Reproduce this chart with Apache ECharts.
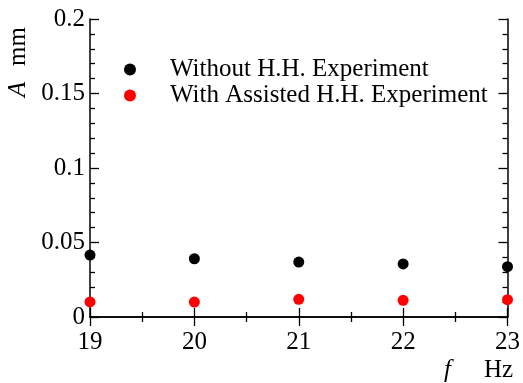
<!DOCTYPE html>
<html><head><meta charset="utf-8">
<script src="https://cdn.jsdelivr.net/npm/echarts@6/dist/echarts.min.js"></script>
<style>html,body{margin:0;padding:0;background:#fff}#c{width:523px;height:383px}</style>
</head><body><div id="c"></div>
<script>
var freqs = [19, 20, 21, 22, 23];
var withoutHH = [0.0416, 0.0391, 0.0369, 0.0356, 0.0338];
var withHH = [0.0101, 0.0100, 0.0119, 0.0112, 0.0116];
var seriesNames = ['Without H.H. Experiment', 'With Assisted H.H. Experiment'];
var xTicks = [19, 20, 21, 22, 23];
var yTicks = [0, 0.05, 0.1, 0.15, 0.2];

function pairs(xs, ys){ return xs.map(function(x,i){ return [x, ys[i]]; }); }
var F = '"Liberation Serif", "Times New Roman", serif';
var FS = 25;
function ax(o, split){
  return Object.assign({
    axisLine:{show:true, lineStyle:{color:'#000', width:1.5}},
    axisTick:{show:true, inside:true, length:9, lineStyle:{color:'#000', width:1.3}},
    minorTick:{show:true, splitNumber:split, length:5, lineStyle:{color:'#000', width:1.3}},
    splitLine:{show:false}
  }, o);
}
var chart = echarts.init(document.getElementById('c'), null, {renderer:'canvas'});
chart.setOption({
  animation:false,
  backgroundColor:'#fff',
  grid:{left:90, right:13, top:19, bottom:66},
  legend:{
    orient:'vertical', left:124, top:57, itemGap:1, padding:0,
    itemWidth:12, itemHeight:12, icon:'circle',
    textStyle:{fontFamily:F, fontSize:FS, color:'#000', padding:[0,0,0,29]},
    data:seriesNames
  },
  xAxis:[
    ax({type:'value', min:19, max:23, interval:1, position:'bottom',
      axisLabel:{show:true, margin:13, fontFamily:F, fontSize:FS, color:'#000',
        formatter:function(v){ return xTicks.indexOf(v)>=0 ? String(v) : ''; }}}, 2),
    ax({type:'value', min:19, max:23, interval:1, position:'top', axisLabel:{show:false}}, 2)
  ],
  yAxis:[
    ax({type:'value', min:0, max:0.2, interval:0.05, position:'left',
      axisLabel:{show:true, margin:5, fontFamily:F, fontSize:FS, color:'#000',
        formatter:function(v){ var r=Math.round(v*100)/100; return yTicks.indexOf(r)>=0 ? String(r) : ''; }}}, 5),
    ax({type:'value', min:0, max:0.2, interval:0.05, position:'right', axisLabel:{show:false}}, 5)
  ],
  graphic:[
    {type:'text', left:444, top:358, style:{text:'f', font:'italic 25px '+F, fill:'#000'}},
    {type:'text', left:484, top:358, style:{text:'Hz', font:'25px '+F, fill:'#000'}},
    {type:'text', x:6, y:97, rotation:Math.PI/2, style:{text:'A', font:'italic 25px '+F, fill:'#000'}},
    {type:'text', x:6, y:66, rotation:Math.PI/2, style:{text:'mm', font:'25px '+F, fill:'#000'}}
  ],
  series:[
    {name:seriesNames[0], type:'scatter', symbol:'circle', symbolSize:11,
      itemStyle:{color:'#000', opacity:1}, data:pairs(freqs, withoutHH), clip:false},
    {name:seriesNames[1], type:'scatter', symbol:'circle', symbolSize:11,
      itemStyle:{color:'#ff0000', opacity:1}, data:pairs(freqs, withHH), clip:false}
  ]
});
</script></body></html>
